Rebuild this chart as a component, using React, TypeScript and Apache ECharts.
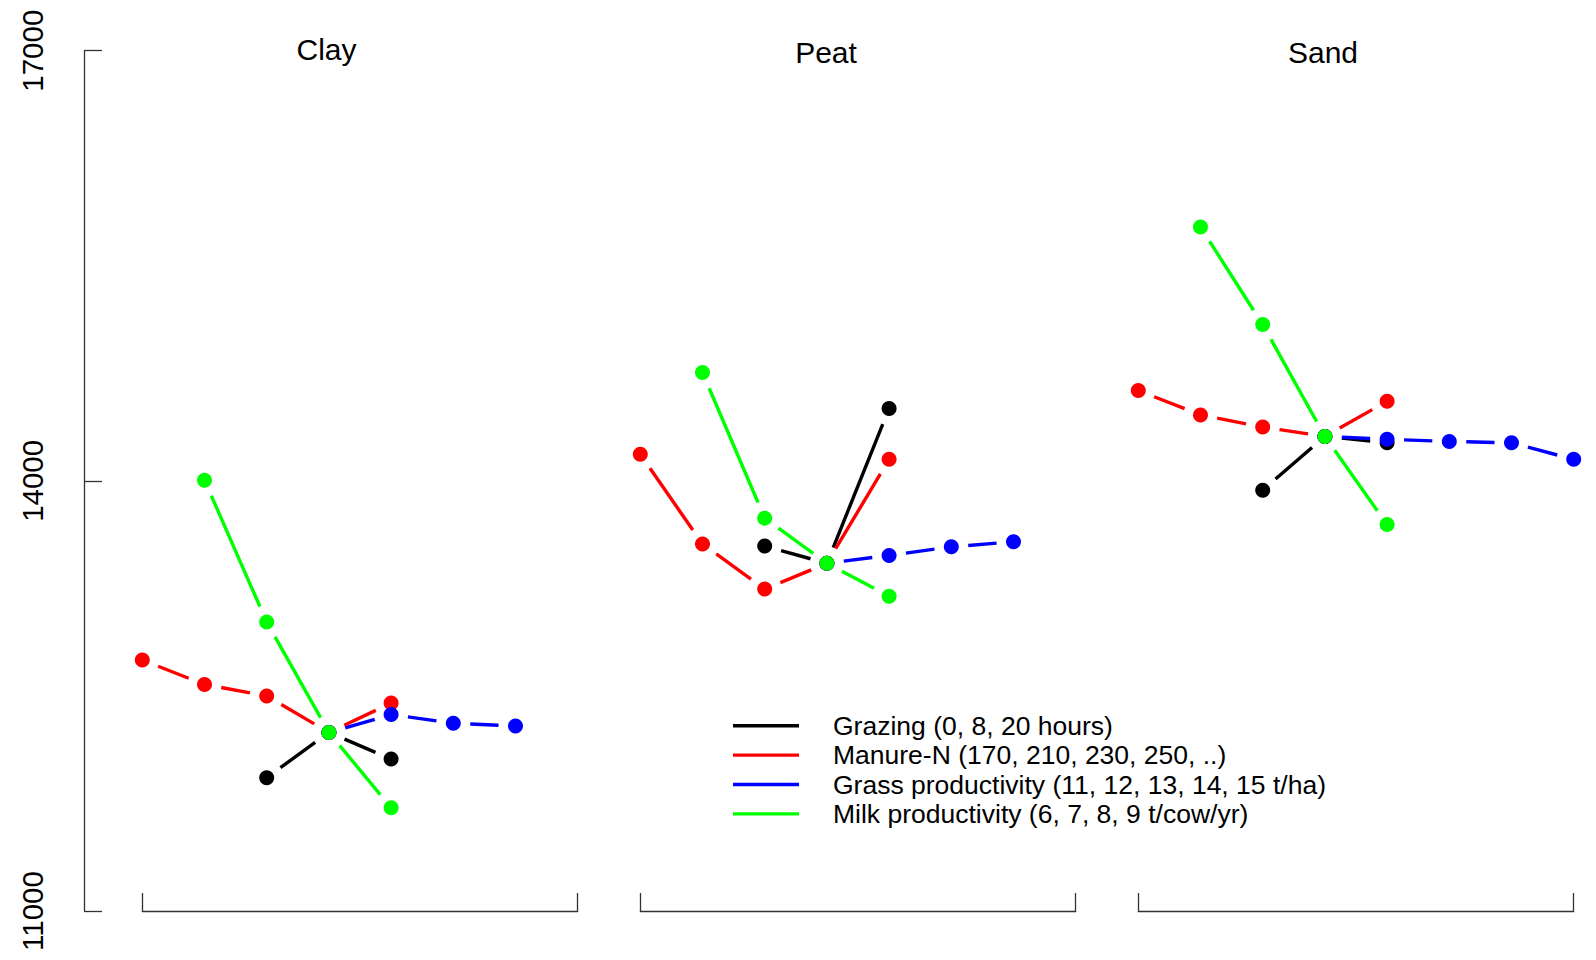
import React, { useEffect, useRef } from "react";
import * as echarts from "echarts";

// ---- data ----
const panelNames = ["Clay", "Peat", "Sand"];
const factorNames = [
  "Grazing (0, 8, 20 hours)",
  "Manure-N (170, 210, 230, 250, ..)",
  "Grass productivity (11, 12, 13, 14, 15 t/ha)",
  "Milk productivity (6, 7, 8, 9 t/cow/yr)",
];
const factorColors = ["#000000", "#ff0000", "#0000ff", "#00ff00"];

// x positions (scenario index within a panel)
const grazingX = [2, 3, 4];
const manureX = [0, 1, 2, 3, 4];
const grassX4 = [3, 4, 5, 6];
const grassX5 = [3, 4, 5, 6, 7];
const milkX = [1, 2, 3, 4];

// Clay
const clayGrazing = [11930, 12245, 12060];
const clayManure = [12750, 12580, 12500, 12245, 12450];
const clayGrass = [12245, 12370, 12310, 12290];
const clayMilk = [14005, 13015, 12245, 11720];
// Peat
const peatGrazing = [13545, 13425, 14505];
const peatManure = [14185, 13560, 13245, 13425, 14150];
const peatGrass = [13425, 13480, 13540, 13575];
const peatMilk = [14755, 13740, 13425, 13195];
// Sand
const sandGrazing = [13935, 14310, 14265];
const sandManure = [14630, 14460, 14375, 14310, 14555];
const sandGrass = [14310, 14290, 14275, 14265, 14150];
const sandMilk = [15770, 15090, 14310, 13695];

const yTicks = [11000, 14000, 17000];
const yMin = 11000;
const yMax = 17000;
const xMin = 0;
const xMax = 7;

const panelData = [
  [
    [grazingX, clayGrazing],
    [manureX, clayManure],
    [grassX4, clayGrass],
    [milkX, clayMilk],
  ],
  [
    [grazingX, peatGrazing],
    [manureX, peatManure],
    [grassX4, peatGrass],
    [milkX, peatMilk],
  ],
  [
    [grazingX, sandGrazing],
    [manureX, sandManure],
    [grassX5, sandGrass],
    [milkX, sandMilk],
  ],
];

// ---- layout ----
const FONT = "'Liberation Sans', Arial, sans-serif";
const GRID_LEFT0 = 142.3;
const GRID_STEP = 498;
const GRID_W = 435.4;
const GRID_TOP = 50.7;
const GRID_H = 860.3;
const GAP = 17;
const AXIS_COLOR = "#333";
const titlePos = [
  [326.5, 49.5],
  [826, 52],
  [1323, 52],
];

export default function App() {
  const ref = useRef<HTMLDivElement>(null);

  useEffect(() => {
    if (!ref.current) return;
    const chart = echarts.init(ref.current, null, { renderer: "svg" });

    const grids: any[] = [];
    const xAxes: any[] = [];
    const yAxes: any[] = [];
    const series: any[] = [];

    panelNames.forEach((_, p) => {
      grids.push({
        left: GRID_LEFT0 + GRID_STEP * p,
        top: GRID_TOP,
        width: GRID_W,
        height: GRID_H,
        containLabel: false,
      });
      xAxes.push({
        type: "value",
        gridIndex: p,
        min: xMin,
        max: xMax,
        axisLine: { show: true, onZero: false, lineStyle: { color: AXIS_COLOR, width: 1.3 } },
        axisTick: {
          show: true,
          inside: true,
          length: 18,
          customValues: [xMin, xMax],
          lineStyle: { color: AXIS_COLOR, width: 1.3 },
        },
        axisLabel: { show: false },
        splitLine: { show: false },
      });
      yAxes.push({
        type: "value",
        gridIndex: p,
        min: yMin,
        max: yMax,
        show: p === 0,
        offset: GRID_LEFT0 - 84,
        axisLine: { show: true, onZero: false, lineStyle: { color: AXIS_COLOR, width: 1.3 } },
        axisTick: {
          show: true,
          inside: true,
          length: 18,
          customValues: yTicks,
          lineStyle: { color: AXIS_COLOR, width: 1.3 },
        },
        axisLabel: {
          show: true,
          customValues: yTicks,
          formatter: (v: number) => String(v),
          rotate: 90,
          margin: 37,
          fontSize: 29.5,
          fontFamily: FONT,
          color: "#000",
        },
        splitLine: { show: false },
      });

      panelData[p].forEach(([xs, vals], f) => {
        const segs = xs.slice(1).map((x, i) => [xs[i], vals[i], x, vals[i + 1]]);
        const color = factorColors[f];
        series.push({
          type: "custom",
          name: factorNames[f],
          xAxisIndex: p,
          yAxisIndex: p,
          clip: false,
          silent: true,
          itemStyle: { color },
          encode: { x: [0, 2], y: [1, 3] },
          data: segs,
          renderItem: (params: any, api: any) => {
            const a = api.coord([api.value(0), api.value(1)]);
            const b = api.coord([api.value(2), api.value(3)]);
            const dx = b[0] - a[0];
            const dy = b[1] - a[1];
            const len = Math.hypot(dx, dy);
            if (len <= 2 * GAP) return null;
            const ux = dx / len;
            const uy = dy / len;
            return {
              type: "line",
              shape: {
                x1: a[0] + ux * GAP,
                y1: a[1] + uy * GAP,
                x2: b[0] - ux * GAP,
                y2: b[1] - uy * GAP,
              },
              style: { stroke: color, lineWidth: 3.4, lineCap: "butt" },
            };
          },
        });
        series.push({
          type: "scatter",
          name: factorNames[f],
          xAxisIndex: p,
          yAxisIndex: p,
          symbol: "circle",
          symbolSize: 15,
          silent: true,
          itemStyle: { color, opacity: 1 },
          emphasis: { disabled: true },
          data: xs.map((x, i) => [x, vals[i]]),
        });
      });
    });

    chart.setOption({
      animation: false,
      backgroundColor: "#ffffff",
      grid: grids,
      xAxis: xAxes,
      yAxis: yAxes,
      series,
      legend: {
        show: true,
        orient: "vertical",
        left: 733,
        top: 711,
        padding: 0,
        itemGap: 0,
        itemWidth: 66,
        itemHeight: 3.4,
        icon: "rect",
        selectedMode: false,
        data: factorNames.map((n, i) => ({ name: n, itemStyle: { color: factorColors[i], opacity: 1 } })),
        textStyle: {
          fontSize: 26.5,
          fontFamily: FONT,
          color: "#000",
          lineHeight: 29.4,
          padding: [0, 0, 0, 29],
        },
      },
      graphic: panelNames.map((name, i) => ({
        type: "text",
        x: titlePos[i][0],
        y: titlePos[i][1],
        style: {
          text: name,
          fontSize: 30,
          fontFamily: FONT,
          fill: "#000",
          textAlign: "center",
          textVerticalAlign: "middle",
        },
      })),
    });

    return () => chart.dispose();
  }, []);

  return (
    <div
      ref={ref}
      style={{ position: "fixed", left: 0, top: 0, width: 1596, height: 960, background: "#fff" }}
    />
  );
}
